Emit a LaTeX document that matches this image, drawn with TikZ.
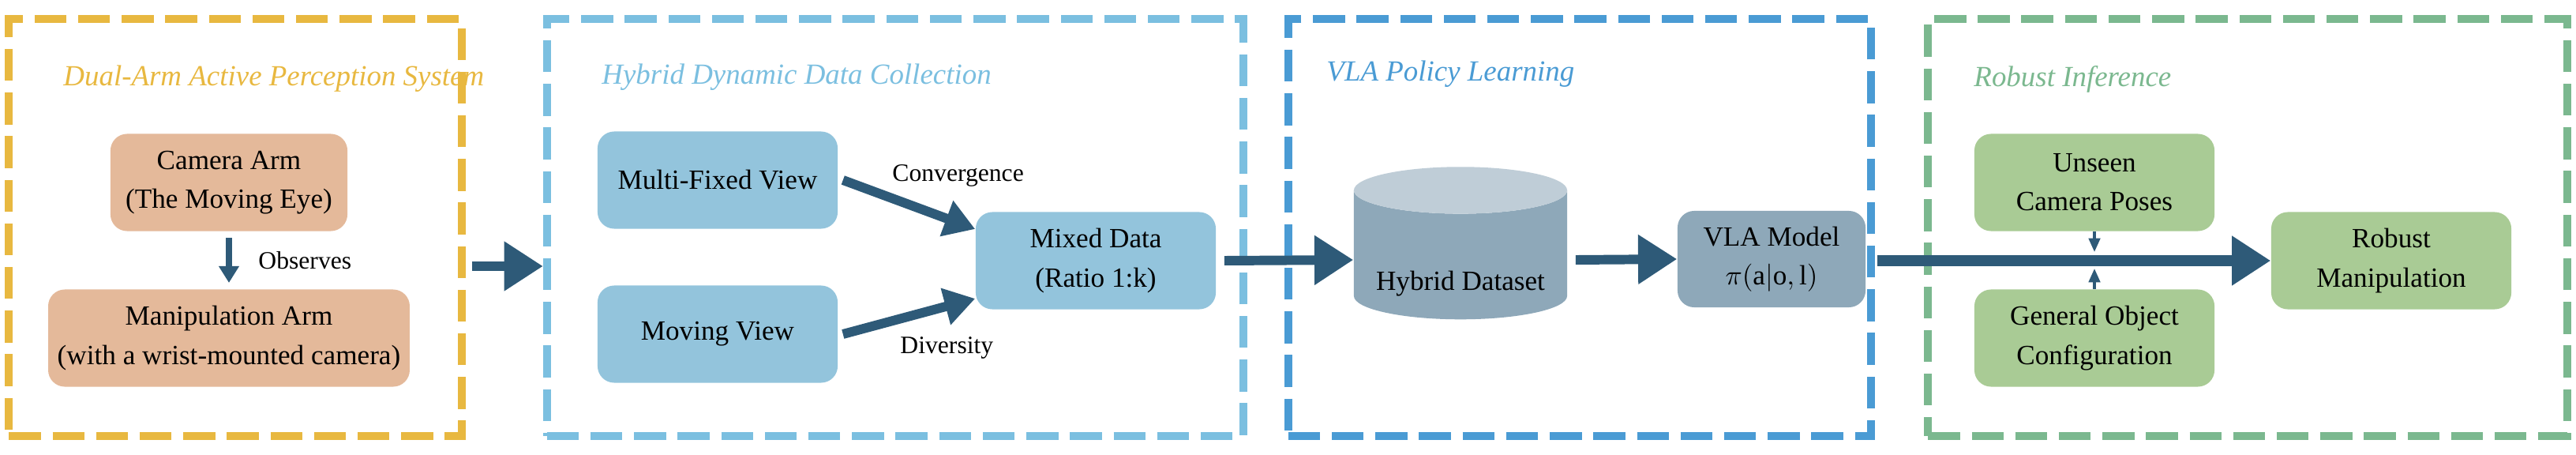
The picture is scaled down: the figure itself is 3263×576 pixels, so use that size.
\documentclass[tikz,border=0pt]{standalone}
\usepackage{fontspec}
\setmainfont{Liberation Serif}
\usetikzlibrary{shapes.geometric,arrows.meta,positioning}
\definecolor{frameY}{HTML}{E8B840}
\definecolor{frameB}{HTML}{7BBFE0}
\definecolor{frameM}{HTML}{4A9BD4}
\definecolor{frameG}{HTML}{7BB88F}
\definecolor{boxO}{HTML}{E4B99A}
\definecolor{boxB}{HTML}{93C4DC}
\definecolor{boxS}{HTML}{8EA8B9}
\definecolor{boxSt}{HTML}{BFCDD7}
\definecolor{boxG}{HTML}{A9CB95}
\definecolor{arrowC}{HTML}{2E5A78}

\begin{document}
\begin{tikzpicture}[x=0.01cm,y=-0.01cm,
    frame/.style={draw,line width=2.8pt,dash pattern=on 11.5pt off 4.2pt,minimum width=#1,minimum height=5.27cm},
    title/.style={anchor=west,font=\itshape\fontsize{10.5}{12}\selectfont},
    box/.style={rounded corners=6pt,minimum width=3.04cm,minimum height=1.23cm,align=center,font=\fontsize{10}{14}\selectfont},
    lbl/.style={font=\fontsize{9}{11}\selectfont},
    flow/.style={arrowC,line width=3.4pt,-{Triangle[length=14pt,width=17pt]}},
    tick/.style={arrowC,line width=1.2pt,-{Triangle[length=5pt,width=4pt]}}]
    \useasboundingbox (0,0) rectangle (3263,576);

    % Dual-arm
    \node[frame=5.73cm,frameY] (dualF) at (298,288) {};
    \node[title,frameY] (dualT) at (68,100) {Dual-Arm Active Perception System};
    \node[box,fill=boxO,minimum width=3cm] (camArm) at (290,231) {Camera Arm\\(The Moving Eye)};
    \node[box,fill=boxO,minimum width=4.4cm] (manArm) at (290,428) {Manipulation Arm\\(with a wrist-mounted camera)};
    \draw[arrowC,line width=2pt,-{Triangle[length=6pt,width=7pt]}] (camArm.south) ++(0,8) coordinate (obsA) -- (manArm.north |- 0,358) coordinate (obsB);
    \node[lbl,anchor=west] (obsL) at (315,330) {Observes};

    % Hybrid data
    \node[frame=8.82cm,frameB] (hybF) at (1134,288) {};
    \node[title,frameB] (hybT) at (750,98) {Hybrid Dynamic Data Collection};
    \node[box,fill=boxB] (fixV) at (909,228) {Multi-Fixed View};
    \node[box,fill=boxB] (movV) at (909,423) {Moving View};
    \node[box,fill=boxB] (mixD) at (1388,330) {Mixed Data\\(Ratio 1:k)};
    \draw[flow,line width=3.4pt,-{Triangle[length=11pt,width=13pt]}] (fixV.east) ++(6,0) coordinate (fixA) -- (mixD.west |- 0,290);
    \draw[flow,line width=3.4pt,-{Triangle[length=11pt,width=13pt]}] (movV.east) ++(6,0) coordinate (movA) -- (mixD.west |- 0,378);
    \node[lbl,anchor=west] (convL) at (1118,222) {Convergence};
    \node[lbl,anchor=west] (divL) at (1128,440) {Diversity};

    % VLA policy
    \node[frame=7.38cm,frameM] (vlaF) at (2001,288) {};
    \node[title,frameM] (vlaT) at (1668,94) {VLA Policy Learning};
    \node[cylinder,shape border rotate=90,aspect=0.25,draw=none,
          cylinder uses custom fill,cylinder body fill=boxS,cylinder end fill=boxSt,
          minimum height=1.66cm,minimum width=2.7cm,font=\fontsize{10}{12}\selectfont] (hybD) at (1850,329) {\raisebox{-24pt}{Hybrid Dataset}};
    \node[box,fill=boxS,minimum width=2.38cm,minimum height=1.22cm] (vlaM) at (2244,328) {VLA Model\\$\pi(\mathrm{a}|\mathrm{o,l})$};

    % Robust inference
    \node[frame=8.09cm,frameG] (robF) at (2847,288) {};
    \node[title,frameG] (robT) at (2488,100) {Robust Inference};
    \node[box,fill=boxG] (unsP) at (2653,231) {Unseen\\Camera Poses};
    \node[box,fill=boxG] (genO) at (2653,428) {General Object\\Configuration};
    \node[box,fill=boxG] (robM) at (3029,330) {Robust\\Manipulation};

    % flow between stages
    \draw[flow] (dualF.east) ++(8,49) coordinate (stA) -- (hybF.west |- 0,337);
    \draw[flow] (mixD.east) ++(10,0) coordinate (mixA) -- (hybD.west);
    \draw[flow] (hybD.east) ++(10,0) coordinate (hybA) -- (vlaM.west);
    \draw[flow,line width=4pt] (vlaM.east) ++(14,2) coordinate (vlaA) -- (robM.west |- 0,330);
    \draw[tick] (unsP.south) -- ++(0,26) coordinate (unsA);
    \draw[tick] (genO.north) -- ++(0,-26) coordinate (genA);
\end{tikzpicture}
\end{document}
